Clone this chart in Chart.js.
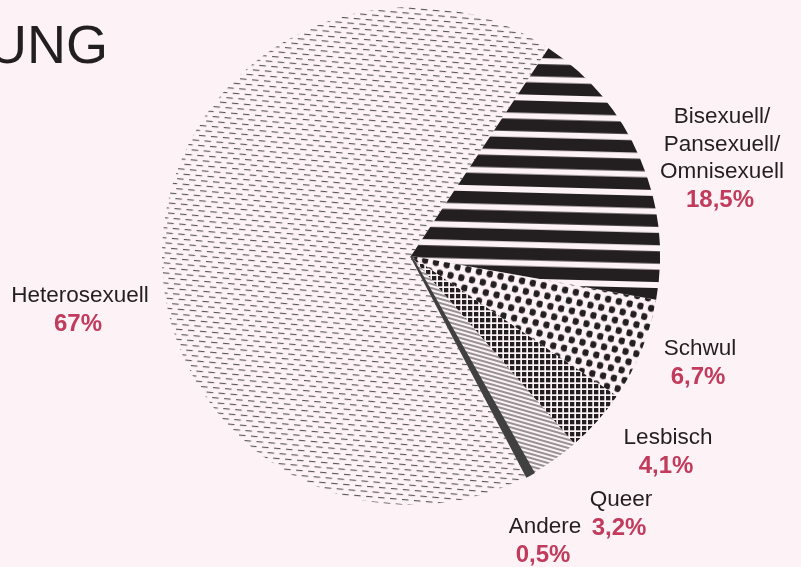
<!DOCTYPE html>
<html>
<head>
<meta charset="utf-8">
<script src="https://cdn.jsdelivr.net/npm/chart.js@4"></script>
<style>
  html, body { margin: 0; padding: 0; background: #fdf2f6; }
  #wrap { width: 801px; height: 567px; position: relative; }
</style>
</head>
<body>
<div id="wrap"><canvas id="pieCanvas"></canvas></div>
<script>
// data, clockwise from the Bisexuell slice
const categories = [["Bisexuell/", "Pansexuell/", "Omnisexuell"], ["Schwul"], ["Lesbisch"], ["Queer"], ["Andere"], ["Heterosexuell"]];
const shares = [18.5, 6.7, 4.1, 3.2, 0.5, 67];

// label placement (centre x, baseline of first line)
const labelAt = [[722, 123], [700, 355], [668, 444], [621, 506], [545, 533], [80, 302]];

const ink = "#231f20";
const rose = "#c13b5c";

function tile(w, h, draw) {
    const c = document.createElement("canvas");
    c.width = w; c.height = h;
    draw(c.getContext("2d"));
    return c;
}

function makePattern(c, matrix) {
    const p = document.createElement("canvas").getContext("2d").createPattern(c, "repeat");
    if (matrix) p.setTransform(matrix);
    return p;
}

// bold horizontal stripes
const stripes = makePattern(tile(8, 92, function(g) {
    g.fillStyle = ink;
    for (let k = 0; k < 5; k++) g.fillRect(0, k * 18.4, 8, 12.4);
}), new DOMMatrix().translateSelf(500, 136.7).rotateSelf(1.5).translateSelf(-500, -128.8));

// staggered dots
const dots = makePattern(tile(11, 19, function(g) {
    g.fillStyle = ink;
    [[2.75, 4.75], [8.25, 14.25]].forEach(function(d) {
        g.beginPath(); g.arc(d[0], d[1], 3.4, 0, Math.PI * 2); g.fill();
    });
}), new DOMMatrix().rotateSelf(12));

// chequer grid
const grid = makePattern(tile(6, 6, function(g) {
    g.fillStyle = ink;
    g.fillRect(0, 0, 4.3, 4.3);
}));

// thin hatch
const hatch = makePattern(tile(8, 4, function(g) {
    g.fillStyle = "#333";
    g.fillRect(0, 1.5, 8, 1);
}), new DOMMatrix().rotateSelf(16));

// short dashes
const dashes = makePattern(tile(12, 10, function(g) {
    g.fillStyle = "#555";
    g.fillRect(0, 2, 6.5, 1.1);
    g.fillRect(6, 7, 6, 1.1);
    g.fillRect(0, 7, 0.5, 1.1);
}), new DOMMatrix().rotateSelf(5));

const fills = [stripes, dots, grid, hatch, "#404040", dashes];

const textPlugin = {
    id: "pieText",
    afterDraw: function(chart) {
        const ctx = chart.ctx;
        ctx.save();
        ctx.textAlign = "left";
        ctx.textBaseline = "alphabetic";
        ctx.fillStyle = ink;
        ctx.font = "54px 'Liberation Sans', Arial, sans-serif";
        ctx.fillText("UNG", -12, 63);

        ctx.textAlign = "center";
        categories.forEach(function(lines, i) {
            const x = labelAt[i][0];
            let y = labelAt[i][1];
            ctx.fillStyle = ink;
            ctx.font = "22.5px 'Liberation Sans', Arial, sans-serif";
            lines.forEach(function(t, j) {
                ctx.fillText(t, x, y + j * 27.5);
            });
            y += (lines.length - 1) * 27.5 + 28.5;
            ctx.fillStyle = rose;
            ctx.font = "bold 24px 'Liberation Sans', Arial, sans-serif";
            ctx.fillText(String(shares[i]).replace(".", ",") + "%", x - 2, y);
        });
        ctx.restore();
    }
};

const pieChart = new Chart(document.getElementById("pieCanvas"), {
    type: "pie",
    data: {
        labels: categories.map(function(l) { return l.join(" "); }),
        datasets: [{
            data: shares,
            backgroundColor: fills,
            borderColor: "#404040",
            borderWidth: [0, 0, 0, 0, 2, 0],
            borderJoinStyle: "miter"
        }]
    },
    options: {
        responsive: true,
        maintainAspectRatio: false,
        animation: false,
        rotation: 33.5,
        layout: { padding: { top: 6, bottom: 61, left: 161, right: 140 } },
        plugins: {
            legend: { display: false },
            tooltip: { enabled: false }
        }
    },
    plugins: [textPlugin]
});
</script>
</body>
</html>
